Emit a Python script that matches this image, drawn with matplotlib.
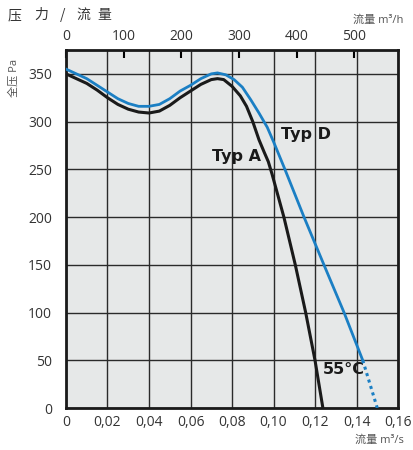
import matplotlib
matplotlib.use('Agg')
import matplotlib.pyplot as plt

plt.rcParams['font.family'] = ['Open Sans', 'Noto Sans CJK SC', 'DejaVu Sans']

# Typ A curve (black), flow in m3/s vs pressure in Pa
typ_a_flow = [0, 0.005, 0.010, 0.015, 0.020, 0.025, 0.030, 0.035, 0.040, 0.045,
              0.050, 0.055, 0.060, 0.065, 0.070, 0.073, 0.076, 0.080, 0.084, 0.087,
              0.090, 0.093, 0.0955, 0.0975, 0.0993, 0.1050, 0.1105, 0.1155, 0.120, 0.1238]
typ_a_pa = [350, 345, 340, 333, 325, 318, 313, 310, 309, 311,
            317, 325, 332, 339, 344, 345, 344, 337, 327, 316,
            300, 281, 268, 258, 245, 200, 150, 100, 50, 0]

# Typ D curve (blue), solid part
typ_d_flow = [0, 0.005, 0.010, 0.015, 0.020, 0.025, 0.030, 0.035, 0.040, 0.045,
              0.050, 0.055, 0.060, 0.065, 0.070, 0.073, 0.077, 0.081, 0.085, 0.089,
              0.093, 0.097, 0.100, 0.1055, 0.1147, 0.1243, 0.134, 0.143]
typ_d_pa = [355, 350, 345, 338, 331, 324, 319, 316, 316, 318,
            324, 332, 338, 345, 350, 351, 349, 344, 336, 323,
            309, 294, 279, 250, 200, 150, 100, 50]
# Typ D dotted tail (55°C)
typ_d_tail_flow = [0.143, 0.150]
typ_d_tail_pa = [50, 0]

x_ticks = [0, 0.02, 0.04, 0.06, 0.08, 0.10, 0.12, 0.14, 0.16]
x_labels = ['0', '0,02', '0,04', '0,06', '0,08', '0,10', '0,12', '0,14', '0,16']
y_ticks = [0, 50, 100, 150, 200, 250, 300, 350]
top_ticks = [0, 100, 200, 300, 400, 500]
title_chars = ['压', '力', '/', '流', '量']

blue = '#1b7fc4'
txt = '#333333'

fig = plt.figure(figsize=(4.13, 4.5), dpi=100)
ax = fig.add_axes([0.1598, 0.0933, 0.8039, 0.7956])
ax.set_facecolor('#e6e8e8')

ax.plot(typ_a_flow, typ_a_pa, color='#1a1a1a', lw=2.2, zorder=3)
ax.plot(typ_d_flow, typ_d_pa, color=blue, lw=2.0, zorder=4)
ax.plot(typ_d_tail_flow, typ_d_tail_pa, color=blue, lw=2.2, linestyle=(0, (1, 1.2)), zorder=4)

ax.set_xlim(0, 0.16)
ax.set_ylim(0, 375)
ax.set_xticks(x_ticks)
ax.set_xticklabels(x_labels)
ax.set_yticks(y_ticks)
ax.tick_params(length=0, labelsize=10, labelcolor=txt)
ax.tick_params(axis='x', pad=5)
ax.tick_params(axis='y', pad=10)
ax.grid(True, color='#2a2a2a', lw=1.0)
for s in ax.spines.values():
    s.set_linewidth(2)
    s.set_color('#1a1a1a')

# top axis in m3/h
top = ax.secondary_xaxis('top', functions=(lambda q: q * 3600, lambda h: h / 3600))
top.set_xticks(top_ticks)
top.tick_params(direction='in', length=6, width=1.5, labelsize=10, labelcolor=txt, pad=4)

lbl = dict(fontsize=11.5, fontweight='bold', color='#1a1a1a', ha='center', va='center',
           family=['DejaVu Sans'])
ax.text(0.0822, 263, 'Typ A', **lbl)
ax.text(0.1157, 286, 'Typ D', **lbl)
ax.text(0.1338, 40, '55°C', **lbl)

for ch, xp in zip(title_chars, [15, 41, 63, 83, 104]):
    fig.text(xp / 413, 1 - 15 / 450, ch, fontsize=10, color=txt, ha='center', va='center',
             family=['Noto Sans CJK SC'])
fig.text(0.977, 1 - 20 / 450, '流量 m³/h', fontsize=8, color='#555555', ha='right', va='center')
fig.text(0.977, 1 - 440 / 450, '流量 m³/s', fontsize=8, color='#555555', ha='right', va='center')
fig.text(14 / 413, 1 - 78 / 450, '全压 Pa', fontsize=8, color='#555555', rotation=90,
         ha='center', va='center')

fig.savefig('out.png', dpi=100)
